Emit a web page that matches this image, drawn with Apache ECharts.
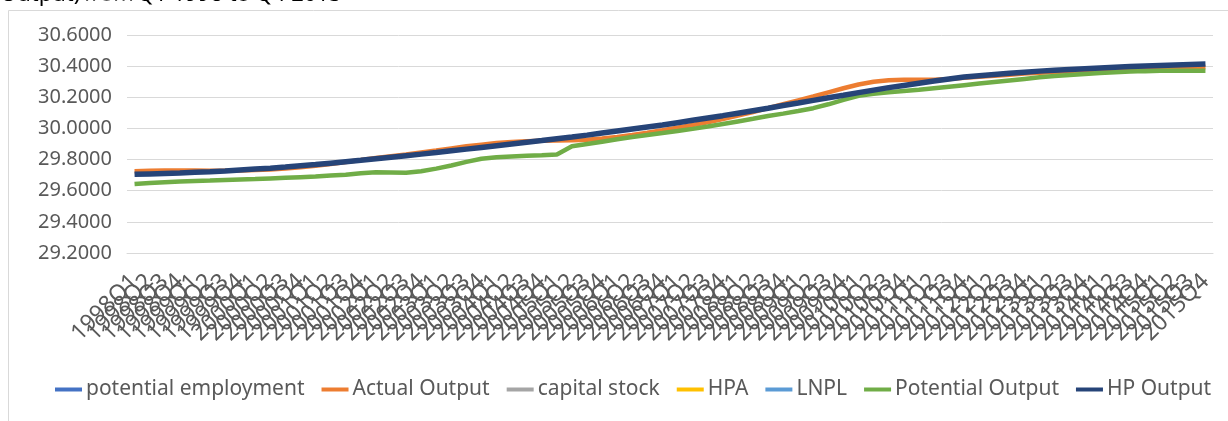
<!DOCTYPE html>
<html>
<head>
<meta charset="utf-8">
<script src="https://cdn.jsdelivr.net/npm/echarts@6/dist/echarts.min.js"></script>
<style>
html,body{margin:0;padding:0;background:#fff;}
#c{width:1228px;height:421px;}
</style>
</head>
<body>
<div id="c"></div>
<script>
// Categories: quarterly 1998Q1 .. 2015Q4
const years = [1998,1999,2000,2001,2002,2003,2004,2005,2006,2007,2008,2009,2010,2011,2012,2013,2014,2015];
const quarters = ['Q1','Q2','Q3','Q4'];
const categories = [];
years.forEach(y => quarters.forEach(q => categories.push(y + q)));

const seriesNames = ['potential employment','Actual Output','capital stock','HPA','LNPL','Potential Output','HP Output'];
const seriesColors = ['#4472C4','#ED7D31','#A5A5A5','#FFC000','#5B9BD5','#70AD47','#264478'];

// Series not visible within the plotted range
const potentialEmployment = [];
const capitalStock = [];
const hpa = [];
const lnpl = [];

const actualOutput = [
29.725,29.728,29.730,29.730,29.730,
29.728,29.728,29.730,29.733,29.737,
29.742,29.750,29.760,29.772,29.785,
29.797,29.810,29.822,29.832,29.845,
29.858,29.872,29.885,29.896,29.906,
29.913,29.918,29.921,29.922,29.924,
29.928,29.935,29.945,29.958,29.972,
29.988,30.005,30.022,30.040,30.060,
30.082,30.105,30.130,30.155,30.180,
30.205,30.232,30.258,30.282,30.300,
30.310,30.313,30.312,30.312,30.318,
30.325,30.332,30.338,30.345,30.352,
30.358,30.363,30.367,30.372,30.376,
30.380,30.384,30.387,30.390,30.392,
30.393,30.395];

const potentialOutput = [
29.643,29.650,29.655,29.659,29.662,
29.665,29.669,29.672,29.675,29.679,
29.683,29.687,29.691,29.697,29.703,
29.712,29.718,29.717,29.716,29.725,
29.742,29.762,29.785,29.805,29.815,
29.820,29.824,29.828,29.833,29.885,
29.900,29.915,29.930,29.945,29.958,
29.970,29.983,29.997,30.012,30.028,
30.045,30.062,30.080,30.095,30.112,
30.130,30.155,30.183,30.210,30.222,
30.232,30.240,30.248,30.258,30.268,
30.278,30.288,30.298,30.308,30.318,
30.328,30.336,30.343,30.350,30.356,
30.361,30.365,30.368,30.370,30.371,
30.371,30.370];

const hpOutput = [
29.705,29.708,29.711,29.714,29.718,
29.722,29.727,29.733,29.739,29.745,
29.752,29.760,29.768,29.777,29.786,
29.795,29.805,29.815,29.825,29.835,
29.845,29.856,29.867,29.878,29.889,
29.900,29.911,29.922,29.934,29.945,
29.957,29.970,29.983,29.996,30.009,
30.022,30.037,30.052,30.067,30.082,
30.098,30.114,30.130,30.147,30.163,
30.180,30.197,30.213,30.230,30.246,
30.262,30.276,30.290,30.304,30.317,
30.330,30.338,30.346,30.354,30.361,
30.368,30.373,30.378,30.383,30.388,
30.393,30.397,30.401,30.404,30.407,
30.410,30.413];

const seriesData = [potentialEmployment, actualOutput, capitalStock, hpa, lnpl, potentialOutput, hpOutput];
const lineWidths = [4, 4.5, 4, 4, 4, 4.5, 5.5];

const FONT = 'Noto Sans';
const chart = echarts.init(document.getElementById('c'), null, {renderer:'canvas'});
chart.setOption({
  animation:false,
  backgroundColor:'#ffffff',
  textStyle:{fontFamily:FONT},
  graphic:[
    {type:'rect', shape:{x:8.5,y:10.5,width:1240,height:430}, style:{fill:'none', stroke:'#d9d9d9', lineWidth:1}, silent:true},
    {type:'text', left:0, top:-16, style:{
      rich:{
        b:{fontFamily:FONT,fontSize:22,fill:'#000000'},
        g:{fontFamily:FONT,fontSize:22,fill:'#595959'}
      },
      text:'{b|Output)} {g|from} {b|Q1 1998 to Q4 2015}'
    }}
  ],
  legend:{
    data:seriesNames,
    bottom:16,
    left:50,
    icon:'rect',
    itemWidth:27,
    itemHeight:4,
    itemGap:17,
    textStyle:{fontFamily:FONT,fontSize:21,color:'#595959',padding:[0,0,0,-1]}
  },
  grid:{left:127,right:15,top:35,bottom:168},
  xAxis:{
    type:'category',
    data:categories,
    boundaryGap:true,
    axisLine:{show:true,lineStyle:{color:'#d9d9d9',width:1}},
    axisTick:{show:false},
    axisLabel:{interval:0,rotate:45,fontFamily:FONT,fontSize:23,color:'#595959',margin:25}
  },
  yAxis:{
    type:'value',
    min:29.2,
    max:30.6,
    interval:0.2,
    axisLine:{show:false},
    axisTick:{show:false},
    splitLine:{lineStyle:{color:'#d9d9d9',width:1}},
    axisLabel:{fontFamily:FONT,fontSize:20,color:'#595959',margin:15,
      formatter:v=>v.toFixed(4)}
  },
  series:seriesNames.map((n,i)=>({
    name:n,
    type:'line',
    data:seriesData[i],
    symbol:'none',
    color:seriesColors[i],
    lineStyle:{width:lineWidths[i],color:seriesColors[i]}
  }))
});
</script>
</body>
</html>
